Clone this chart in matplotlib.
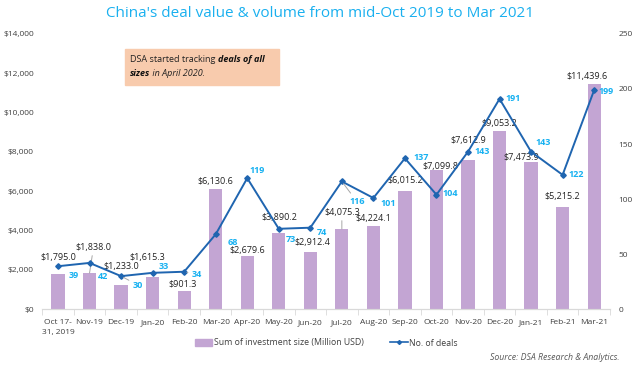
import numpy as np
import matplotlib
matplotlib.use("Agg")
import matplotlib.pyplot as plt
from matplotlib.patches import Rectangle, Patch
from matplotlib.lines import Line2D
from matplotlib.text import Annotation

plt.rcParams['font.family'] = ['Open Sans', 'DejaVu Sans']

months = ['Oct 17-\n31, 2019', 'Nov-19', 'Dec-19', 'Jan-20', 'Feb-20', 'Mar-20',
          'Apr-20', 'May-20', 'Jun-20', 'Jul-20', 'Aug-20', 'Sep-20', 'Oct-20',
          'Nov-20', 'Dec-20', 'Jan-21', 'Feb-21', 'Mar-21']
invest = [1795.0, 1838.0, 1233.0, 1615.3, 901.3, 6130.6, 2679.6, 3890.2, 2912.4,
          4075.3, 4224.1, 6015.2, 7099.8, 7612.9, 9053.2, 7473.9, 5215.2, 11439.6]
deals = [39, 42, 30, 33, 34, 68, 119, 73, 74, 116, 101, 137, 104, 143, 191, 143, 122, 199]

# label offsets in pixels (dx, dy)
bar_off = [(0, 16), (4, 26), (0, 18), (-5, 20), (-2, 7), (0, 7), (0, 6), (1, 15), (2, 9),
           (0, 17), (0, 8), (0, 10), (4, 3), (0, 19), (0, 8), (-10, 5), (0, 10), (-7, 8)]
deal_off = [(16, -9), (13, -14), (17, -9), (11, 6), (13, -3), (17, -8), (10, 8), (12, -11),
            (12, -5), (15, -20), (15, -6), (16, 1), (14, 1), (14, 0), (14, 0), (12, 9),
            (14, 0), (12, -1)]
bar_lead = [1, 9]
deal_lead = [2, 4, 9, 10]

bar_color = '#c3a5d3'
line_color = '#1f65b0'
deal_color = '#17b1f1'
text_color = '#404040'

fig = plt.figure(figsize=(6.4, 3.65), dpi=100)
ax = fig.add_axes([0.066, 0.153, 0.887, 0.754])
ax2 = ax.twinx()

x = np.arange(len(months))
ax.bar(x, invest, width=0.42, color=bar_color, zorder=1)
ax.set_xlim(-0.5, len(months) - 0.5)
ax.set_ylim(0, 14000)
ax.set_yticks(np.arange(0, 14001, 2000))
ax.set_yticklabels(['${:,.0f}'.format(v) for v in np.arange(0, 14001, 2000)])
ax.set_xticks(x)
ax.set_xticklabels(months, fontsize=6.0, color=text_color, linespacing=1.6)
ax.set_xticks(np.arange(-0.5, len(months), 1), minor=True)
ax.tick_params(axis='x', which='major', length=0, pad=7)
ax.tick_params(axis='x', which='minor', length=4, color='#d9d9d9')
ax.tick_params(axis='y', length=0, labelsize=6.0, labelcolor=text_color, pad=6)

ax2.plot(x, deals, color=line_color, lw=1.4, marker='D', ms=2.8, zorder=3)
ax2.set_ylim(0, 250)
ax2.set_yticks(np.arange(0, 251, 50))
ax2.tick_params(axis='y', length=0, labelsize=6.0, labelcolor=text_color, pad=6)

for a in (ax, ax2):
    for s in ['top', 'left', 'right']:
        a.spines[s].set_visible(False)
    a.spines['bottom'].set_color('#d9d9d9')

for i in range(len(months)):
    ap = None
    if i in bar_lead:
        ap = dict(arrowstyle='-', color='#a6a6a6', lw=0.7, shrinkA=1, shrinkB=0)
    ax.annotate('${:,.1f}'.format(invest[i]), (x[i], invest[i]), xytext=bar_off[i],
                textcoords='offset pixels', ha='center', va='center', fontsize=6.5,
                color='#222222', arrowprops=ap, zorder=4)
    ap = None
    if i in deal_lead:
        ap = dict(arrowstyle='-', color='#a6a6a6', lw=0.7, shrinkA=1, shrinkB=2)
    ax2.annotate(str(deals[i]), (x[i], deals[i]), xytext=deal_off[i],
                 textcoords='offset pixels', ha='center', va='center', fontsize=6.5,
                 fontweight='bold', color=deal_color, arrowprops=ap, zorder=4)

fig.text(0.5, 0.963, "China's deal value & volume from mid-Oct 2019 to Mar 2021",
         ha='center', va='center', fontsize=11, color='#1ab0ef')

# note box
fig.add_artist(Rectangle((125 / 640, 1 - 85 / 365), 154 / 640, 36 / 365,
                         transform=fig.transFigure, color='#f8cbad', zorder=5))
t1 = fig.text(130 / 640, 1 - 62 / 365, 'DSA started tracking ', fontsize=6.5,
              va='baseline', color='#222222', zorder=6)
a1 = Annotation('deals of all', xy=(1, 0), xycoords=t1, va='bottom', ha='left',
                fontsize=6.5, fontweight='bold', style='italic', color='#111111',
                annotation_clip=False, zorder=6)
fig.add_artist(a1)
t3 = fig.text(130 / 640, 1 - 76 / 365, 'sizes', fontsize=6.5, fontweight='bold',
              style='italic', va='baseline', color='#111111', zorder=6)
a2 = Annotation(' in April 2020.', xy=(1, 0), xycoords=t3, va='bottom', ha='left',
                fontsize=6.5, style='italic', color='#222222', annotation_clip=False,
                zorder=6)
fig.add_artist(a2)

handles = [Patch(color=bar_color), Line2D([], [], color=line_color, lw=1.2, marker='D', ms=2)]
fig.legend(handles, ['Sum of investment size (Million USD)', 'No. of deals'],
           loc='center', bbox_to_anchor=(0.51, 1 - 343 / 365), ncol=2, frameon=False,
           fontsize=6.3, handlelength=2.0, handletextpad=0.2, columnspacing=3,
           labelcolor=text_color)
fig.text(620 / 640, 1 - 357 / 365, 'Source: DSA Research & Analytics.', ha='right',
         va='center', fontsize=6.3, style='italic', color='#595959')

fig.savefig('out.png', dpi=100)
